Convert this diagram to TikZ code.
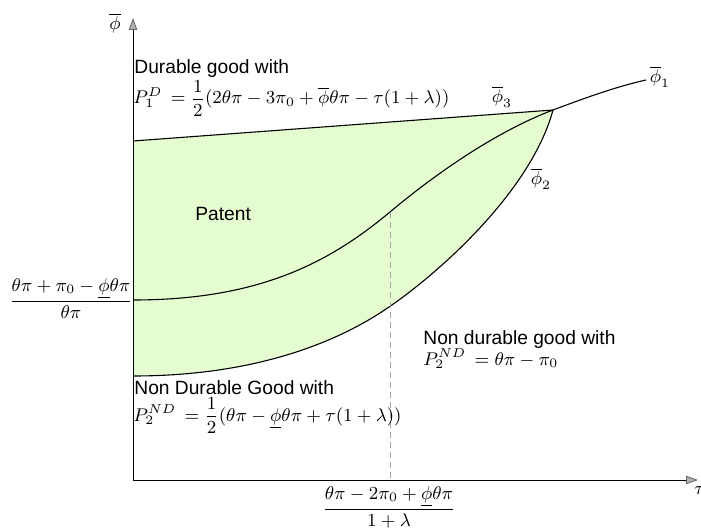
\RequirePackage{fix-cm}
\documentclass[tikz,border=0pt]{standalone}
\usepackage{amsmath}
\usepackage{fontspec}
\newfontfamily\lsans{Liberation Sans}
\usetikzlibrary{arrows.meta}
\definecolor{patentgreen}{RGB}{229,252,208}
\begin{document}
\begin{tikzpicture}[x=0.5pt,y=-0.5pt,
  every node/.style={font=\fontsize{9.2}{11}\selectfont},
  axis/.style={line width=0.5pt,-{Triangle[length=6pt,width=4.2pt,fill=gray!60,color=gray!80!black,line width=0.4pt]}},
  curve/.style={line width=0.55pt},
  guide/.style={gray!70,line width=0.5pt,dash pattern=on 3pt off 2pt},
  txt/.style={font=\lsans\fontsize{9.6}{11.5}\selectfont,inner sep=0pt,anchor=base west},
  frm/.style={inner sep=0pt,anchor=base west},
  lbl/.style={inner sep=0pt}]
\useasboundingbox (0,0) rectangle (701,529);
% key points
\coordinate (O) at (133,480);
\coordinate (Ytop) at (133,18);
\coordinate (Xend) at (698,480);
\coordinate (A) at (133,141);
\coordinate (C) at (553,110);
\coordinate (M0) at (133,300);
\coordinate (Dm) at (390,212);
\coordinate (Db) at (390,480);
\coordinate (L0) at (133,376);
\coordinate (L1) at (380,313);
\coordinate (E) at (646,80);
% region
\fill[patentgreen] (A) -- (C) .. controls (530,195) and (430,281) .. (L1)
   .. controls (330,345) and (250,376) .. (L0) -- cycle;
% curves
\draw[curve] (A) -- (C);
\draw[curve] (C) .. controls (585,98) and (615,87) .. (E);
\draw[curve] (L0) .. controls (250,376) and (330,345) .. (L1)
   .. controls (430,281) and (530,195) .. (C);
\draw[curve] (M0) .. controls (260,300) and (330,262) .. (Dm)
   .. controls (440,170) and (500,130) .. (C);
\draw[guide] (Dm) -- (Db);
% axes
\draw[axis] (O) -- (Ytop);
\draw[axis] (O) -- (Xend);
% axis labels
\node[lbl] (ylab) at (115,23) {$\overline{\phi}$};
\node[lbl,anchor=west] (xlab) at (694,491) {$\tau$};
\node[lbl] (phi1) at (660,77) {$\overline{\phi}_1$};
\node[lbl] (phi3) at (502,97) {$\overline{\phi}_3$};
\node[lbl] (phi2) at (541,179) {$\overline{\phi}_2$};
% texts
\node[txt] (t1) at (134,74) {Durable good with};
\node[frm] (f1) at (133,104) {$P_1^D\,=\dfrac{1}{2}(2\theta\pi-3\pi_0+\overline{\phi}\theta\pi-\tau(1+\lambda))$};
\node[txt] (tp) at (195,221) {Patent};
\node[txt] (t3) at (423,344) {Non durable good with};
\node[frm] (f3) at (423,365) {$P_2^{ND}\,=\theta\pi-\pi_0$};
\node[txt] (t2) at (134,394) {Non Durable Good with};
\node[frm] (f2) at (133,421) {$P_2^{ND}\,=\dfrac{1}{2}(\theta\pi-\underline{\phi}\theta\pi+\tau(1+\lambda))$};
% fractions on axes
\node[frm,anchor=base] (fy) at (71,306) {$\dfrac{\theta\pi+\pi_0-\underline{\phi}\theta\pi}{\theta\pi}$};
\node[frm,anchor=base] (fx) at (389,514) {$\dfrac{\theta\pi-2\pi_0+\underline{\phi}\theta\pi}{1+\lambda}$};
\end{tikzpicture}
\end{document}
